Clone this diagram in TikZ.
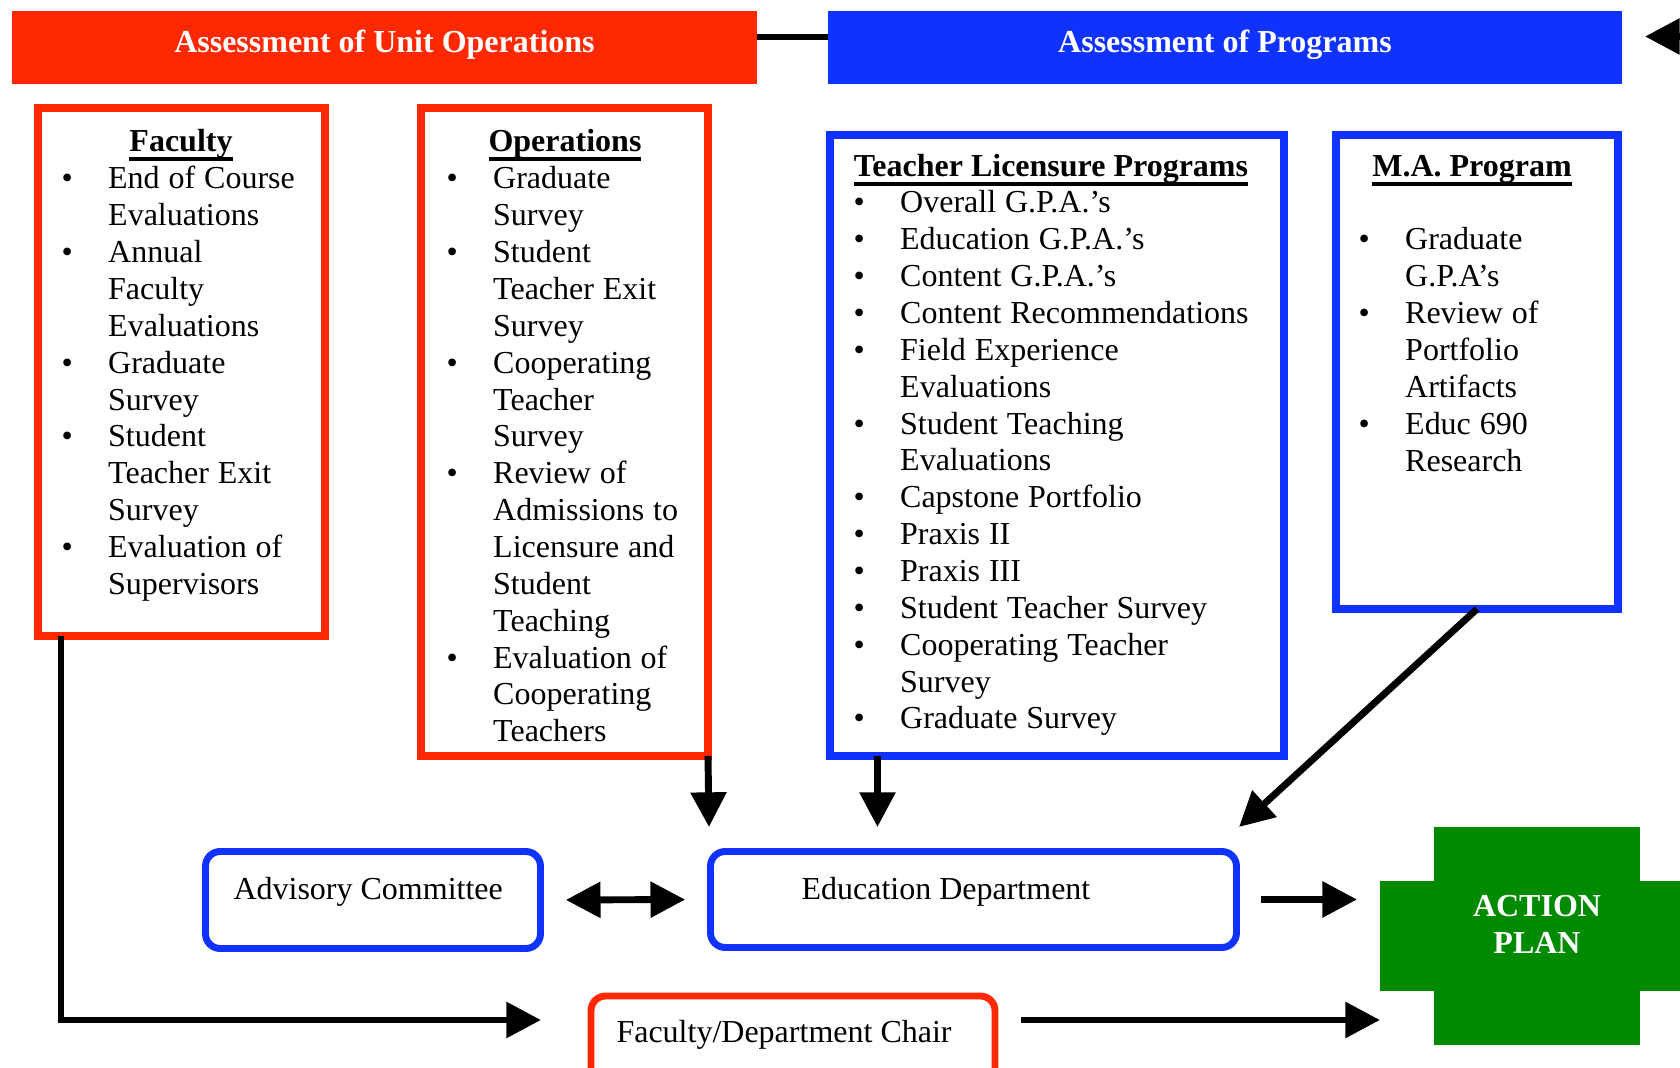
\documentclass[tikz,border=0pt]{standalone}
\usepackage{fontspec}
\setmainfont{Liberation Serif}
\usetikzlibrary{arrows.meta}
\definecolor{ured}{RGB}{255,40,0}
\definecolor{ublue}{RGB}{16,50,255}
\definecolor{agreen}{RGB}{0,138,0}
\newcommand\PX{0.375pt}
\newcommand\hul[1]{\setbox0\hbox{#1}\rlap{\rule[-3.4pt]{\wd0}{1.5pt}}\box0}
\newcommand\bi[1]{\makebox[17.5pt][l]{\textbullet}#1}
\newcommand\ci[1]{\hspace*{17.5pt}#1}
\newcommand\lsfont{\fontsize{12pt}{13.82pt}\selectfont}
\begin{document}
\begin{tikzpicture}[x=0.375pt, y=-0.375pt,
  rbox/.style={rectangle, draw=ured, line width=3pt, inner sep=0pt, outer sep=0pt},
  bbox/.style={rectangle, draw=ublue, line width=3pt, inner sep=0pt, outer sep=0pt},
  rnd/.style={rounded corners=5.5pt, line width=2.6pt},
  bar/.style={rectangle, inner sep=0pt, outer sep=0pt, text=white, font=\lsfont\bfseries, text height=8pt, text depth=3.9pt},
  hdr/.style={anchor=base, inner sep=0pt, font=\lsfont\bfseries},
  lst/.style={anchor=base west, inner sep=0pt, text width=170pt, align=left},
  lbl/.style={anchor=base west, inner sep=0pt, font=\lsfont},
  arr/.style={line width=2.6pt, -{Triangle[length=13pt,width=13pt]}},
  darr/.style={line width=2.6pt, {Triangle[length=13pt,width=13pt]}-{Triangle[length=13pt,width=13pt]}},
  ln/.style={line width=2.6pt},
  grn/.style={rectangle, fill=agreen, inner sep=0pt, outer sep=0pt}]
\useasboundingbox (0,0) rectangle (1680,1068);
\clip (0,0) rectangle (1680,1068);
\fill[white] (0,0) rectangle (1680,1068);

% header bars
\node[bar, fill=ured, minimum width=745*\PX, minimum height=73*\PX] (redbar) at (384.5,47.5) {Assessment of Unit Operations};
\node[bar, fill=ublue, minimum width=794*\PX, minimum height=73*\PX] (bluebar) at (1225,47.5) {Assessment of Programs};

% boxes
\node[rbox, minimum width=287*\PX, minimum height=528*\PX] (fac) at (181.5,372) {};
\node[rbox, minimum width=287*\PX, minimum height=648*\PX] (ops) at (564.5,432) {};
\node[bbox, minimum width=454*\PX, minimum height=621*\PX] (tlp) at (1057,445.5) {};
\node[bbox, minimum width=282*\PX, minimum height=474*\PX] (ma) at (1477,372) {};
\node[bbox, rnd, minimum width=335*\PX, minimum height=97*\PX] (adv) at (373,900) {};
\node[bbox, rnd, minimum width=526*\PX, minimum height=96*\PX] (ed) at (973.5,899.5) {};
\node[rbox, rnd, minimum width=404*\PX, minimum height=94*\PX] (chair) at (793,1043) {};

% headers
\node[hdr] (fachd) at (181,152) {\hul{Faculty}};
\node[hdr] (opshd) at (565,152) {\hul{Operations}};
\node[hdr] (tlphd) at (1051,177) {\hul{Teacher Licensure Programs}};
\node[hdr] (mahd) at (1472,177) {\hul{M.A. Program}};

% lists
\node[lst] (faclist) at (61,189) {\lsfont
\bi{End of Course}\\ \ci{Evaluations}\\
\bi{Annual}\\ \ci{Faculty}\\ \ci{Evaluations}\\
\bi{Graduate}\\ \ci{Survey}\\
\bi{Student}\\ \ci{Teacher Exit}\\ \ci{Survey}\\
\bi{Evaluation of}\\ \ci{Supervisors}\par};

\node[lst] (opslist) at (446,189) {\lsfont
\bi{Graduate}\\ \ci{Survey}\\
\bi{Student}\\ \ci{Teacher Exit}\\ \ci{Survey}\\
\bi{Cooperating}\\ \ci{Teacher}\\ \ci{Survey}\\
\bi{Review of}\\ \ci{Admissions to}\\ \ci{Licensure and}\\ \ci{Student}\\ \ci{Teaching}\\
\bi{Evaluation of}\\ \ci{Cooperating}\\ \ci{Teachers}\par};

\node[lst] (tlplist) at (853,213) {\lsfont
\bi{Overall G.P.A.’s}\\
\bi{Education G.P.A.’s}\\
\bi{Content G.P.A.’s}\\
\bi{Content Recommendations}\\
\bi{Field Experience}\\ \ci{Evaluations}\\
\bi{Student Teaching}\\ \ci{Evaluations}\\
\bi{Capstone Portfolio}\\
\bi{Praxis II}\\
\bi{Praxis III}\\
\bi{Student Teacher Survey}\\
\bi{Cooperating Teacher}\\ \ci{Survey}\\
\bi{Graduate Survey}\par};

\node[lst] (malist) at (1358,250) {\lsfont
\bi{Graduate}\\ \ci{G.P.A’s}\\
\bi{Review of}\\ \ci{Portfolio}\\ \ci{Artifacts}\\
\bi{Educ 690}\\ \ci{Research}\par};

% labels of lower boxes
\node[lbl] (advtxt) at (233,899.5) {Advisory Committee};
\node[lbl] (edtxt) at (801,899.5) {Education Department};
\node[lbl] (chairtxt) at (616,1042.5) {Faculty/Department Chair};

% action plan
\node[grn, minimum width=320*\PX, minimum height=110*\PX] (acth) at (1540,936) {};
\node[grn, minimum width=206*\PX, minimum height=218*\PX] (actv) at (1537,936) {};
\node[anchor=base, inner sep=0pt, text width=150pt, align=center, text=white] (acttxt) at (1537,917) {\lsfont\bfseries ACTION\\PLAN\par};

% connectors
\draw[ln] ([shift={(0,-10.5)}]redbar.east) -- ([shift={(0,-10.5)}]bluebar.west);
\coordinate (offR) at (1740,36.5);
\draw[arr] (offR) -- ([shift={(23,-11)}]bluebar.east);

\coordinate (chairin) at ([shift={(-50,24)}]chair.north west);
\coordinate (chairout) at ([shift={(26,24)}]chair.north east);
\draw[arr] ([shift={(23,0)}]fac.south west) |- (chairin);
\draw[arr] (ops.south east) -- ([shift={(-1.5,-24.5)}]ed.north west);
\draw[arr] ([shift={(47.5,0)}]tlp.south west) -- ([shift={(167,-24.5)}]ed.north west);
\draw[arr] (ma.south) -- ([shift={(2.5,-24.5)}]ed.north east);
\draw[darr, shorten <=9.5pt, shorten >=9.5pt] (adv.east) -- (ed.west);
\draw[arr, shorten <=9.2pt, shorten >=8.6pt] (ed.east) -- (ed.east -| acth.west);
\draw[arr] (chairout) -- (chairout -| acth.west);
\end{tikzpicture}
\end{document}
